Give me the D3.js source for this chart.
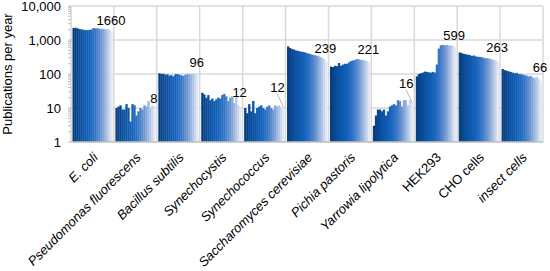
<!DOCTYPE html>
<html>
<head>
<meta charset="utf-8">
<script src="https://cdn.jsdelivr.net/npm/d3@7"></script>
<style>
  body { margin: 0; background: #fff; }
  svg { font-family: "Liberation Sans", Arial, sans-serif; }
</style>
</head>
<body>
<div id="chart"></div>
<script>
// organisms / cell lines on the x axis
var groups = ["E. coli", "Pseudomonas fluorescens", "Bacillus subtilis", "Synechocystis",
  "Synechococcus", "Saccharomyces cerevisiae", "Pichia pastoris", "Yarrowia lipolytica",
  "HEK293", "CHO cells", "insect cells"];
var italicGroups = [true, true, true, true, true, true, true, true, false, false, true];

// publications per year, 20 years per group
var ecoli = [2250, 2300, 2200, 2100, 2050, 2000, 1950, 1950, 2000, 2050, 2250, 2200, 2200, 2150, 2100, 2150, 2050, 2100, 2000, 1750];
var pseudomonas = [10, 11, 12, 9, 9, 13, 10, 4, 13, 12, 6, 8, 10, 9, 12, 11, 16, 10, 12, 9];
var bacillus = [105, 100, 102, 95, 98, 90, 92, 85, 98, 100, 95, 92, 88, 95, 100, 98, 97, 100, 102, 103];
var synechocystis = [28, 25, 20, 24, 17, 19, 16, 18, 20, 19, 24, 26, 22, 16, 20, 22, 14, 22, 12, 10];
var synechococcus = [10, 7, 13, 8, 16, 7, 10, 11, 12, 10, 9, 11, 12, 10, 9, 12, 11, 12, 10, 11];
var saccharomyces = [650, 580, 540, 520, 490, 480, 460, 450, 440, 420, 400, 390, 370, 360, 350, 340, 320, 300, 280, 230];
var pichia = [165, 160, 175, 170, 210, 175, 190, 200, 200, 220, 240, 250, 260, 275, 270, 260, 255, 250, 240, 225];
var yarrowia = [3, 6, 9, 9, 8, 9, 6, 8, 11, 12, 13, 12, 17, 16, 11, 17, 17, 12, 17, 14];
var hek293 = [85, 100, 105, 110, 118, 115, 112, 110, 115, 110, 190, 560, 700, 720, 700, 710, 690, 700, 680, 620];
var cho = [430, 410, 390, 380, 370, 360, 340, 350, 330, 320, 320, 310, 300, 290, 290, 280, 270, 260, 250, 230];
var insect = [140, 130, 125, 120, 115, 110, 105, 108, 100, 98, 96, 92, 90, 85, 88, 80, 75, 82, 72, 62];
var series = [ecoli, pseudomonas, bacillus, synechocystis, synechococcus, saccharomyces,
  pichia, yarrowia, hek293, cho, insect];

// value labels shown at the right of each group
var labelValues = [1660, 8, 96, 12, 12, 239, 221, 16, 599, 263, 66];
var leaderLine = [false, false, false, false, true, false, false, true, false, false, false];

var yTicks = [1, 10, 100, 1000, 10000];

var width = 550, height = 271;
var margin = { top: 6, right: 7, bottom: 129, left: 71 };

var svg = d3.select("#chart").append("svg")
  .attr("width", width)
  .attr("height", height);

var x = d3.scaleBand()
  .domain(groups)
  .range([margin.left, width - margin.right])
  .padding(0);

var years = d3.range(20);
var xi = d3.scaleBand()
  .domain(years)
  .range([1.5, x.bandwidth() - 1.5])
  .padding(0);

var y = d3.scaleLog()
  .domain([1, 10000])
  .range([height - margin.bottom, margin.top]);

var color = d3.scaleSequential(d3.interpolateRgbBasis(
  ["#083d7e", "#0b57ad", "#1565c0", "#6d93d0", "#e1e8f5"]))
  .domain([0, 19]);

// gridlines
svg.append("g")
  .selectAll("line.h")
  .data(yTicks.slice(1))
  .enter()
  .append("line")
  .attr("x1", margin.left)
  .attr("x2", width - margin.right)
  .attr("y1", (d) => y(d))
  .attr("y2", (d) => y(d))
  .attr("stroke", "#d9d9d9")
  .attr("stroke-width", 1.5);

svg.append("g")
  .selectAll("line.v")
  .data(groups.slice(1).concat(["end"]))
  .enter()
  .append("line")
  .attr("x1", (d) => d == "end" ? width - margin.right : x(d))
  .attr("x2", (d) => d == "end" ? width - margin.right : x(d))
  .attr("y1", margin.top)
  .attr("y2", height - margin.bottom)
  .attr("stroke", "#d9d9d9")
  .attr("stroke-width", 1.5);

// bars
var g = svg.append("g")
  .selectAll("g")
  .data(series)
  .enter()
  .append("g")
  .attr("transform", (d, i) => "translate(" + x(groups[i]) + ",0)");

g.selectAll("rect")
  .data((d) => d)
  .enter()
  .append("rect")
  .attr("x", (d, j) => xi(j))
  .attr("width", xi.bandwidth() + 0.3)
  .attr("y", (d) => y(d))
  .attr("height", (d) => y(1) - y(d))
  .attr("fill", (d, j) => color(j));

// y axis
svg.append("line")
  .attr("x1", margin.left)
  .attr("x2", margin.left)
  .attr("y1", margin.top)
  .attr("y2", height - margin.bottom)
  .attr("stroke", "#bfbfbf");

var minor = [];
yTicks.slice(0, -1).forEach(function (t) {
  for (var k = 2; k < 10; k++) minor.push(t * k);
});
svg.append("g")
  .selectAll("line")
  .data(minor.concat(yTicks))
  .enter()
  .append("line")
  .attr("x1", margin.left - 3)
  .attr("x2", margin.left)
  .attr("y1", (d) => y(d))
  .attr("y2", (d) => y(d))
  .attr("stroke", "#bfbfbf");

svg.append("g")
  .selectAll("text")
  .data(yTicks)
  .enter()
  .append("text")
  .attr("x", 61)
  .attr("y", (d) => y(d))
  .attr("dy", "0.35em")
  .attr("text-anchor", "end")
  .attr("font-size", "13px")
  .attr("fill", "#000")
  .text((d) => d3.format(",")(d));

svg.append("text")
  .attr("transform", "translate(12," + (margin.top + (height - margin.bottom - margin.top) / 2) + ") rotate(-90)")
  .attr("text-anchor", "middle")
  .attr("font-size", "13px")
  .text("Publications per year");

// x axis baseline
svg.append("line")
  .attr("x1", margin.left)
  .attr("x2", width - margin.right)
  .attr("y1", y(1))
  .attr("y2", y(1))
  .attr("stroke", "#bfbfbf")
  .attr("stroke-width", 1.5);

// x labels
svg.append("g")
  .selectAll("text")
  .data(groups)
  .enter()
  .append("text")
  .attr("transform", (d) => "translate(" + (x(d) + x.bandwidth() / 2 + 3) + "," + (y(1) + 13) + ") rotate(-45)")
  .attr("text-anchor", "end")
  .attr("dy", "0.35em")
  .attr("font-size", "13px")
  .attr("font-style", (d, i) => italicGroups[i] ? "italic" : "normal")
  .text((d) => d);

// value labels
groups.forEach(function (grp, i) {
  var px = x(grp) + x.bandwidth() - 2;
  var py = y(labelValues[i]);
  var tx = px - 1, ty = py - 8;
  if (leaderLine[i]) {
    tx = px - 6;
    ty = py - 13;
    svg.append("line")
      .attr("x1", tx)
      .attr("y1", ty + 2)
      .attr("x2", px)
      .attr("y2", py + 2)
      .attr("stroke", "#a6a6a6")
      .attr("stroke-width", 0.8);
  }
  svg.append("text")
    .attr("x", tx)
    .attr("y", ty)
    .attr("text-anchor", "middle")
    .attr("font-size", "13px")
    .text(labelValues[i]);
});
</script>
</body>
</html>
